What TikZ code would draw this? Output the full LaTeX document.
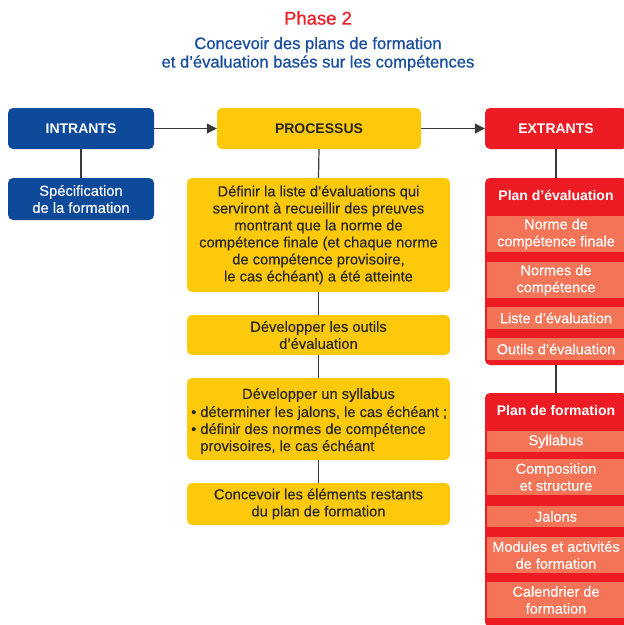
\documentclass[tikz,border=0pt]{standalone}
\usepackage{fontspec}
\setmainfont{Liberation Sans}
\newfontfamily\medfont[FakeBold=0.9]{Liberation Sans}
\newfontfamily\bodyfont[FakeBold=0.25]{Liberation Sans}
\usetikzlibrary{arrows.meta}
\definecolor{cblue}{HTML}{0D4A9A}
\definecolor{cyellow}{HTML}{FFC90B}
\definecolor{cred}{HTML}{ED1C24}
\definecolor{csalmon}{HTML}{F37457}
\definecolor{ttitle}{HTML}{E8202A}
\definecolor{tsub}{HTML}{1A4E9E}
\definecolor{cline}{HTML}{3A3A3A}
\begin{document}
\begin{tikzpicture}[x=1pt,y=-1pt,
  box/.style={rounded corners=5pt, inner sep=0pt, align=center},
  bluebox/.style={box, fill=cblue, text=white},
  yellowbox/.style={box, fill=cyellow, text=black!85},
  redbox/.style={box, fill=cred, text=white},
  subbox/.style={inner sep=0pt, fill=csalmon, text=white, align=center, minimum width=138pt,
    font=\bodyfont\fontsize{14.5}{17}\selectfont},
  head/.style={font=\bfseries\fontsize{14}{17}\selectfont},
  body/.style={font=\bodyfont\fontsize{14.7}{17}\selectfont},
  conn/.style={draw=cline, line width=1.2pt},
  arr/.style={conn, -{Triangle[length=10pt,width=10pt]}}
]
\useasboundingbox (0,0) rectangle (624,625);
\clip (0,0) rectangle (624,625);

% titles
\node[font=\medfont\fontsize{18.5}{20}\selectfont, text=ttitle] (title) at (318,18) {Phase 2};
\node[font=\medfont\fontsize{16.6}{18.5}\selectfont, text=tsub, align=center] (subtitle) at (318,54)
  {Concevoir des plans de formation\\et d’évaluation basés sur les compétences};

% headers
\node[bluebox, head, minimum width=146pt, minimum height=41pt] (intr) at (81,128.5) {INTRANTS};
\node[yellowbox, head, minimum width=204pt, minimum height=41pt] (proc) at (319,128.5) {PROCESSUS};
\node[redbox, head, minimum width=142pt, minimum height=41pt] (ext) at (556,128.5) {EXTRANTS};

% intrants
\node[bluebox, body, minimum width=146pt, minimum height=42pt] (spec) at (81,199) {Spécification\\de la formation};

% processus
\node[yellowbox, body, minimum width=263pt, minimum height=114pt] (p1) at (318.5,235)
  {Définir la liste d’évaluations qui\\serviront à recueillir des preuves\\montrant que la norme de\\compétence finale (et chaque norme\\de compétence provisoire,\\le cas échéant) a été atteinte};
\node[yellowbox, body, minimum width=263pt, minimum height=40pt] (p2) at (318.5,335)
  {Développer les outils\\d’évaluation};
\node[yellowbox, minimum width=263pt, minimum height=82pt] (p3) at (318.5,419) {};
\node[body, text=black!85, inner sep=0pt] (p3t) at (318.5,395) {Développer un syllabus};
\node[body, text=black!85, inner sep=0pt, anchor=north west, align=left] (p3l) at (191,406)
  {•\hspace{4pt}déterminer les jalons, le cas échéant ;\\
   •\hspace{4pt}définir des normes de compétence\\
   \phantom{•}\hspace{4pt}provisoires, le cas échéant};
\node[yellowbox, body, minimum width=263pt, minimum height=42pt] (p4) at (318.5,504)
  {Concevoir les éléments restants\\du plan de formation};

% extrants: plan d'evaluation
\node[redbox, minimum width=142pt, minimum height=187pt] (ev) at (556,271.5) {};
\node[head, text=white, inner sep=0pt] (evh) at (556,195) {Plan d’évaluation};
\node[subbox, minimum height=36pt] (e1) at (556,234) {Norme de\\compétence finale};
\node[subbox, minimum height=36pt] (e2) at (556,280) {Normes de\\compétence};
\node[subbox, minimum height=22pt] (e3) at (556,318) {Liste d’évaluation};
\node[subbox, minimum height=22pt] (e4) at (556,349) {Outils d’évaluation};

% extrants: plan de formation
\node[redbox, minimum width=142pt, minimum height=234pt] (pf) at (556,510) {};
\node[head, text=white, inner sep=0pt] (pfh) at (556,410) {Plan de formation};
\node[subbox, minimum height=21pt] (f1) at (556,441.5) {Syllabus};
\node[subbox, minimum height=36pt] (f2) at (556,477) {Composition\\et structure};
\node[subbox, minimum height=21pt] (f3) at (556,516.5) {Jalons};
\node[subbox, minimum height=36pt] (f4) at (556,555) {Modules et activités\\de formation};
\node[subbox, minimum height=36pt] (f5) at (556,600) {Calendrier de\\formation};

% connectors
\draw[arr] (intr.east) -- (proc.west);
\draw[arr] (proc.east) -- (ext.west);
\draw[conn] (intr.south) -- (spec.north);
\draw[conn] (proc.south) -- (p1.north);
\draw[conn] (p1.south) -- (p2.north);
\draw[conn] (p2.south) -- (p3.north);
\draw[conn] (p3.south) -- (p4.north);
\draw[conn] (ext.south) -- (ev.north);
\draw[conn] (ev.south) -- (pf.north);
\end{tikzpicture}
\end{document}
